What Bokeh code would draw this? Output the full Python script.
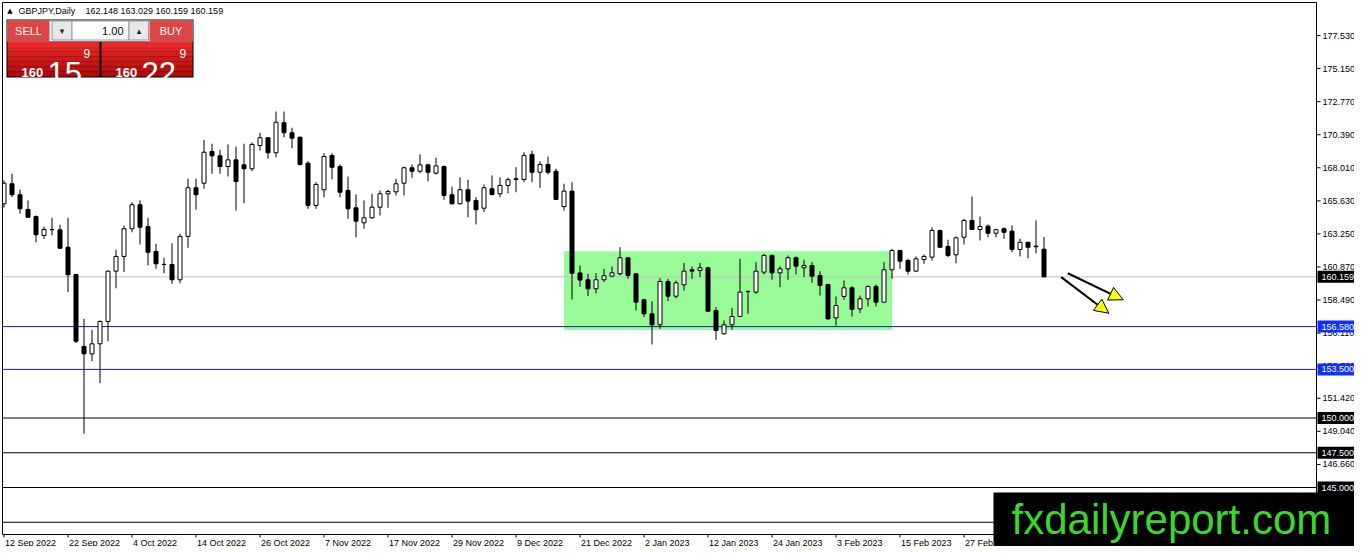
from bokeh.plotting import figure
from bokeh.models import ColumnDataSource, Arrow, NormalHead, Range1d
from bokeh.core.properties import value
from bokeh.embed import file_html
from bokeh.resources import INLINE

# ---------------- data ----------------
symbol = "GBPJPY,Daily"
last_ohlc = [162.148, 163.029, 160.159, 160.159]

opens = [165.42, 166.86, 166.07, 165.01, 164.50, 163.14, 163.55, 163.55, 162.29, 160.33,
         155.15, 154.62, 155.34, 156.95, 160.57, 161.63, 163.62, 165.35, 163.78, 161.99,
         161.05, 161.05, 159.95, 163.07, 166.57, 166.90, 169.18, 168.87, 168.10, 168.58,
         168.22, 167.94, 169.61, 170.17, 169.09, 171.25, 170.53, 170.21, 168.34, 165.30,
         166.43, 168.89, 168.10, 166.38, 165.13, 164.05, 164.41, 165.17, 166.14, 166.28,
         166.90, 168.01, 167.76, 168.22, 167.62, 168.10, 166.07, 165.42, 166.43, 165.66,
         165.10, 166.50, 166.14, 166.74, 167.22, 167.17, 168.97, 167.69, 168.25, 167.76,
         165.22, 166.33, 160.44, 159.95, 159.30, 159.95, 160.21, 160.38, 161.53, 160.38,
         158.51, 157.50, 156.71, 159.83, 158.77, 159.59, 160.67, 160.62, 160.81, 157.74,
         156.06, 156.71, 157.31, 159.09, 159.06, 160.50, 161.70, 160.45, 160.74, 161.53,
         160.81, 160.98, 160.26, 159.61, 157.21, 158.75, 159.37, 157.86, 158.58, 159.47,
         158.34, 160.67, 162.06, 161.34, 160.57, 161.41, 161.58, 163.50, 162.35, 161.75,
         163.01, 164.22, 163.57, 163.81, 163.30, 163.62, 163.45, 162.13, 162.65, 162.37,
         162.148]
highs = [167.10, 167.58, 166.43, 165.66, 164.58, 163.78, 164.41, 163.91, 164.41, 160.38,
         157.14, 156.35, 157.02, 160.62, 162.11, 163.86, 165.53, 165.66, 164.41, 162.54,
         161.53, 162.58, 163.26, 167.22, 167.22, 170.02, 169.74, 169.30, 169.69, 169.54,
         169.74, 169.83, 170.53, 170.21, 172.06, 172.06, 170.89, 170.26, 168.48, 166.97,
         169.06, 169.06, 168.25, 167.38, 166.09, 165.66, 166.14, 166.38, 166.43, 167.22,
         168.10, 168.25, 168.97, 168.30, 168.73, 168.17, 166.66, 167.33, 167.15, 165.89,
         166.81, 167.46, 167.33, 167.29, 168.05, 169.13, 169.25, 168.48, 168.82, 167.94,
         166.86, 166.97, 160.98, 160.38, 160.42, 160.74, 160.91, 162.29, 161.58, 160.42,
         158.58, 158.41, 160.06, 160.02, 159.90, 161.17, 160.91, 161.17, 160.86, 157.98,
         157.02, 157.93, 161.46, 159.18, 161.22, 161.82, 161.77, 160.91, 161.70, 161.63,
         161.39, 161.22, 160.57, 159.66, 158.75, 159.90, 159.47, 158.82, 159.54, 159.61,
         161.22, 162.18, 162.11, 161.46, 161.63, 161.77, 163.73, 163.55, 162.83, 163.07,
         164.34, 165.94, 164.50, 163.93, 163.62, 163.73, 163.86, 162.90, 162.65, 164.22,
         163.029]
lows = [165.15, 165.89, 164.70, 164.41, 162.65, 162.90, 163.14, 162.18, 159.06, 155.39,
        148.87, 154.09, 152.51, 155.53, 159.34, 160.50, 163.37, 162.49, 160.98, 160.74,
        160.42, 159.66, 159.70, 162.25, 164.99, 166.50, 167.58, 167.58, 167.38, 164.94,
        165.46, 167.76, 169.25, 168.66, 168.77, 170.21, 169.42, 168.17, 165.06, 165.06,
        165.89, 167.17, 165.89, 164.34, 163.01, 163.62, 164.34, 164.58, 165.13, 166.02,
        166.02, 167.29, 167.62, 167.04, 167.53, 165.71, 165.37, 165.37, 164.45, 163.93,
        164.81, 166.02, 165.89, 166.18, 166.25, 166.97, 166.97, 166.57, 167.53, 165.71,
        164.94, 158.53, 159.45, 158.77, 158.98, 159.78, 160.14, 160.26, 160.02, 157.74,
        157.26, 155.29, 156.42, 158.41, 158.62, 159.18, 160.02, 160.14, 157.67, 155.63,
        156.01, 156.35, 157.26, 157.50, 158.94, 160.33, 159.95, 159.42, 159.95, 160.33,
        160.14, 159.73, 158.82, 157.07, 156.66, 158.51, 157.31, 157.55, 158.03, 158.03,
        158.32, 160.02, 160.74, 160.33, 160.50, 161.10, 161.34, 162.27, 161.58, 161.14,
        162.49, 163.55, 162.78, 163.01, 163.01, 162.90, 161.93, 161.63, 161.50, 161.86,
        160.159]
closes = [166.90, 166.07, 165.06, 164.45, 163.19, 163.57, 163.57, 162.22, 160.31, 155.53,
          154.62, 155.34, 156.95, 160.57, 161.63, 163.62, 165.35, 163.73, 161.93, 161.10,
          161.06, 159.95, 163.07, 166.57, 166.07, 169.13, 168.87, 168.10, 168.58, 167.02,
          167.94, 169.69, 170.17, 169.09, 171.29, 170.53, 170.14, 168.25, 165.30, 166.81,
          168.82, 168.05, 166.25, 165.06, 164.17, 164.41, 165.17, 166.14, 166.30, 166.86,
          168.01, 167.76, 168.22, 167.69, 168.15, 166.02, 165.42, 166.43, 165.61, 164.99,
          166.57, 166.09, 166.74, 167.15, 167.17, 168.89, 167.69, 168.25, 167.69, 165.73,
          166.33, 160.42, 159.93, 159.30, 159.95, 160.24, 160.45, 161.53, 160.26, 158.34,
          157.50, 156.71, 159.83, 158.77, 159.73, 160.57, 160.57, 160.81, 157.69, 156.30,
          156.71, 157.31, 159.06, 159.11, 160.57, 161.70, 160.45, 160.74, 161.53, 160.93,
          160.98, 160.21, 159.54, 157.14, 158.10, 159.37, 157.81, 158.58, 159.47, 158.34,
          160.67, 162.06, 161.29, 160.57, 161.46, 161.63, 163.50, 162.29, 161.70, 162.97,
          164.22, 163.57, 163.78, 163.30, 163.55, 163.37, 162.13, 162.65, 162.29, 162.33,
          160.159]

date_labels = ["12 Sep 2022", "22 Sep 2022", "4 Oct 2022", "14 Oct 2022", "26 Oct 2022",
               "7 Nov 2022", "17 Nov 2022", "29 Nov 2022", "9 Dec 2022", "21 Dec 2022",
               "2 Jan 2023", "12 Jan 2023", "24 Jan 2023", "3 Feb 2023", "15 Feb 2023",
               "27 Feb 2023"]
date_label_bars = [0, 8, 16, 24, 32, 40, 48, 56, 64, 72, 80, 88, 96, 104, 112, 120]

price_ticks = [177.53, 175.15, 172.77, 170.39, 168.01, 165.63, 163.25, 160.87,
               158.49, 156.11, 153.73, 151.42, 149.04, 146.66]

bid_price = 160.159
blue_levels = [156.58, 153.5]
black_levels = [150.0, 147.5, 145.0, 142.5]
black_level_labels = [150.0, 147.5, 145.0]

zone_bars = [70, 111]
zone_prices = [156.33, 162.0]

arrow_start_bar = [132.97, 132.15]
arrow_start_price = [160.42, 160.14]
arrow_end_bar = [139.9, 138.1]
arrow_end_price = [158.51, 157.54]

sell_parts = ["160", "15", "9"]
buy_parts = ["160", "22", "9"]
lot_text = "1.00"
watermark = "fxdailyreport.com"

# ---------------- layout (pixels of the picture) ----------------
W, H = 1354, 546          # whole canvas is the plotting frame
CL, CT, CR, CB = 2, 2, 1316, 534   # chart window inside it
PPB = 8.0                 # pixels per bar
PPU = 13.895              # pixels per price unit
X0 = -3.5 / PPB
X1 = X0 + W / PPB
Y1 = 177.53 + 35 / PPU
Y0 = Y1 - H / PPU


def PX(px):   # picture pixel -> bar units
    return X0 + px / PPB


def PY(py):   # picture pixel -> price
    return Y1 - py / PPU


FONT = "Liberation Sans"

p = figure(frame_width=W, frame_height=H, x_range=Range1d(X0, X1),
           y_range=Range1d(Y0, Y1), x_axis_location=None, y_axis_location=None,
           output_backend="svg", toolbar_location=None, tools="",
           min_border_left=0, min_border_top=0, min_border_right=0, min_border_bottom=0,
           background_fill_color="white", border_fill_color="white",
           outline_line_color=None)
p.xgrid.visible = False
p.ygrid.visible = False


def box(px0, py0, px1, py1, fill, line=None):
    p.quad(left=[PX(px0)], right=[PX(px1)], top=[PY(py0)], bottom=[PY(py1)],
           fill_color=fill, line_color=line, line_width=1)


def txt(px, py, s, size, color, align="left", baseline="middle", style="normal", font=FONT):
    p.text(x=[PX(px)], y=[PY(py)], text=[s], text_font=value(font), text_font_size=size,
           text_color=color, text_align=align, text_baseline=baseline,
           text_font_style=style)


# zone rectangle
p.quad(left=[zone_bars[0]], right=[zone_bars[1]], bottom=[zone_prices[0]],
       top=[zone_prices[1]], fill_color="#98fb98", line_color=None)

# horizontal levels across the chart window
lx0, lx1 = PX(CL), PX(CR)
p.segment(x0=lx0, x1=lx1, y0=[bid_price], y1=[bid_price], line_color="#c0c0c0", line_width=1)
p.segment(x0=lx0, x1=lx1, y0=blue_levels, y1=blue_levels, line_color="#1a1aa8", line_width=1)
p.segment(x0=lx0, x1=lx1, y0=black_levels, y1=black_levels, line_color="black", line_width=1)

# candles
idx = list(range(len(opens)))
src = ColumnDataSource(dict(
    x=idx, o=opens, h=highs, l=lows, c=closes,
    top=[max(a, b) for a, b in zip(opens, closes)],
    bot=[min(a, b) for a, b in zip(opens, closes)],
    fill=["white" if c >= o else "black" for o, c in zip(opens, closes)],
))
p.segment(x0="x", y0="h", x1="x", y1="l", line_color="black", line_width=1, source=src)
p.vbar(x="x", width=0.5, top="top", bottom="bot", fill_color="fill",
       line_color="black", line_width=1, source=src)

# white margin left of the chart window, then its border
box(-5, -5, CL, H + 5, "white")
p.quad(left=[PX(CL)], right=[PX(CR)], top=[PY(CT)], bottom=[PY(CB)],
       fill_color=None, line_color="black", line_width=1)

# price scale
p.segment(x0=PX(CR), x1=PX(CR + 4), y0=price_ticks, y1=price_ticks,
          line_color="black", line_width=1)
p.text(x=PX(CR + 6), y=price_ticks, text=["%.3f" % v for v in price_ticks],
       text_font=value(FONT), text_font_size="9px", text_color="black",
       text_align="left", text_baseline="middle")

# time scale
p.segment(x0=date_label_bars, x1=date_label_bars, y0=PY(CB), y1=PY(CB + 3),
          line_color="black", line_width=1)
p.text(x=date_label_bars, y=PY(CB + 8), text=date_labels, x_offset=1,
       text_font=value(FONT), text_font_size="9px", text_color="black",
       text_align="left", text_baseline="middle")


# price tags on the scale
def axis_tag(price, bg):
    p.quad(left=[PX(CR + 1)], right=[PX(CR + 41)], top=[price + 6 / PPU],
           bottom=[price - 6 / PPU], fill_color=bg, line_color=None)
    p.text(x=[PX(CR + 5)], y=[price], text=["%.3f" % price], text_font=value(FONT),
           text_font_size="9px", text_color="white", text_align="left",
           text_baseline="middle")


axis_tag(bid_price, "black")
for lv in blue_levels:
    axis_tag(lv, "#1030ff")
for lv in black_level_labels:
    axis_tag(lv, "black")

# arrows
for xs, ys, xe, ye in zip(arrow_start_bar, arrow_start_price, arrow_end_bar, arrow_end_price):
    p.add_layout(Arrow(end=NormalHead(size=14, fill_color="#ffff00", line_color="black",
                                      line_width=1),
                       x_start=xs, y_start=ys, x_end=xe, y_end=ye,
                       line_color="black", line_width=2))

# ---------------- header and one-click trading panel ----------------
txt(9.5, 10, "\u25b2", "7px", "black", align="center", font="DejaVu Sans")
txt(18, 10, symbol, "9px", "black")
txt(85, 10, " ".join("%.3f" % v for v in last_ohlc), "9px", "black")

box(6, 19, 193, 77, "black")
box(7, 20, 192, 41, "white")
box(7, 20, 49, 41, "#e04545")
box(149, 20, 192, 41, "#e04545")
box(51.5, 20.5, 71.5, 39.5, "#e8e8e8", "#9a9a9a")
box(71.5, 20.5, 128.5, 39.5, "white", "#9a9a9a")
box(128.5, 20.5, 148, 39.5, "#e8e8e8", "#9a9a9a")
nb = 7
for k in range(nb):
    f = k / (nb - 1)
    col = "#%02x%02x%02x" % (int(232 - 56 * f), int(40 - 28 * f), int(40 - 28 * f))
    y0 = 41.5 + k * 34.5 / nb
    y1 = 41.5 + (k + 1) * 34.5 / nb
    box(7, y0, 99, y1, col)
    box(101, y0, 192, y1, col)

txt(28, 30.5, "SELL", "11px", "white", align="center")
txt(170.5, 30.5, "BUY", "11px", "white", align="center")
txt(61.5, 30, "\u25be", "9px", "#222222", align="center", font="DejaVu Sans")
txt(138.5, 30, "\u25b4", "9px", "#222222", align="center", font="DejaVu Sans")
txt(123, 30.5, lot_text, "11px", "black", align="right")

txt(21, 72, sell_parts[0], "13px", "white", baseline="alphabetic", style="bold")
txt(47, 72, sell_parts[1], "31px", "white", baseline="alphabetic")
txt(83, 53, sell_parts[2], "12px", "white", baseline="alphabetic")
txt(115, 72, buy_parts[0], "13px", "white", baseline="alphabetic", style="bold")
txt(141, 72, buy_parts[1], "31px", "white", baseline="alphabetic")
txt(179, 53, buy_parts[2], "12px", "white", baseline="alphabetic")

# watermark
box(993, 492, W + 5, H + 5, "black")
txt(1011, 519, watermark, "42px", "#3ad82a", baseline="middle")

open("out.html", "w").write(file_html(p, INLINE))
